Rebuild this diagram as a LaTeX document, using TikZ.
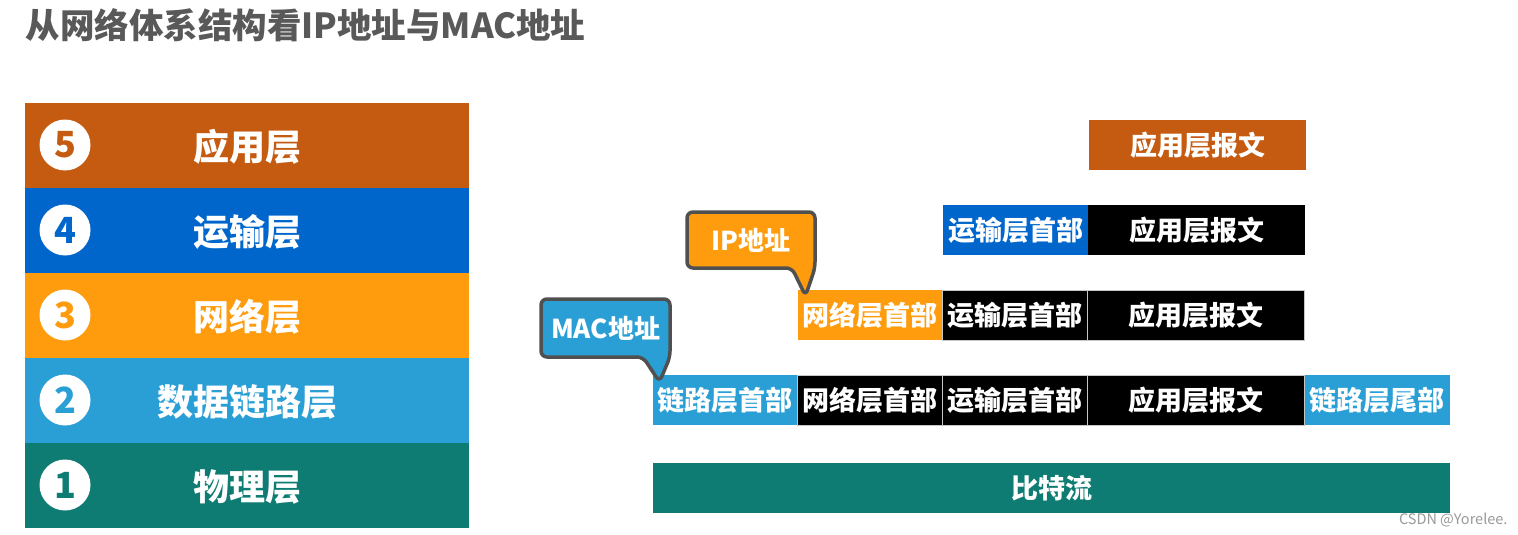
\documentclass[tikz,border=0pt]{standalone}
\usepackage{fontspec}
\setmainfont{Noto Sans CJK SC}
\usepackage{xcolor}
\usepackage{tikz}
\usetikzlibrary{positioning}
\definecolor{titlegray}{HTML}{595959}
\definecolor{appbrown}{HTML}{C55A11}
\definecolor{transblue}{HTML}{0066CC}
\definecolor{netorange}{HTML}{FE9C0E}
\definecolor{linkblue}{HTML}{2A9FD6}
\definecolor{phyteal}{HTML}{0E7C72}
\definecolor{calloutline}{HTML}{505050}
\pgfdeclarelayer{front}
\pgfsetlayers{main,front}
\tikzset{
  layerbox/.style={
    minimum width=444pt,
    minimum height=85pt,
    inner sep=0pt,
    outer sep=0pt,
    text depth=0pt,
    text=white,
    font=\fontsize{36}{40}\selectfont\bfseries
  },
  layernum/.style={
    circle,
    fill=white,
    minimum size=51pt,
    inner sep=0pt,
    font=\fontsize{36}{40}\selectfont\bfseries
  },
  pdubox/.style={
    minimum width=145pt,
    minimum height=50pt,
    inner sep=0pt,
    outer sep=0pt,
    text=white,
    font=\fontsize{27}{30}\selectfont\bfseries
  },
  msgbox/.style={pdubox, minimum width=217pt},
  blackbox/.style={pdubox, fill=black, draw=gray!45, line width=1pt},
  callouttext/.style={
    minimum width=128pt,
    minimum height=56pt,
    inner sep=0pt,
    outer sep=0pt,
    text=white,
    font=\fontsize{26}{30}\selectfont\bfseries
  },
  callout/.style={draw=calloutline, line width=3.5pt, rounded corners=6pt, line join=round}
}
\begin{document}
\begin{tikzpicture}[x=1pt, y=-1pt]
  \useasboundingbox (0,0) rectangle (1518,535);

  \node[anchor=west, text=titlegray, font=\fontsize{34.5}{38}\selectfont\bfseries] (title) at (22,25) {从网络体系结构看IP地址与MAC地址};

  % layer stack
  \node[layerbox, fill=appbrown] (lay5) at (247,145) {应用层};
  \node[layerbox, fill=transblue] (lay4) at (247,230) {运输层};
  \node[layerbox, fill=netorange] (lay3) at (247,315) {网络层};
  \node[layerbox, fill=linkblue] (lay2) at (247,400) {数据链路层};
  \node[layerbox, fill=phyteal] (lay1) at (247,485) {物理层};

  \node[layernum, text=appbrown] (num5) at (65,145) {5};
  \node[layernum, text=transblue] (num4) at (65,230) {4};
  \node[layernum, text=netorange] (num3) at (65,315) {3};
  \node[layernum, text=linkblue] (num2) at (65,400) {2};
  \node[layernum, text=phyteal] (num1) at (65,485) {1};

  % encapsulation
  \node[msgbox, fill=appbrown] (appmsg) at (1197.5,145) {应用层报文};

  \node[pdubox, fill=transblue] (tphdr) at (1015.5,230) {运输层首部};
  \node[msgbox, fill=black, right=0pt of tphdr] (tpmsg) {应用层报文};

  \node[pdubox, fill=netorange] (nethdr) at (870,315) {网络层首部};
  \node[blackbox, right=0pt of nethdr] (nettp) {运输层首部};
  \node[blackbox, msgbox, right=0pt of nettp] (netmsg) {应用层报文};

  \node[pdubox, fill=linkblue] (linkhdr) at (725,400) {链路层首部};
  \node[blackbox, right=0pt of linkhdr] (linknet) {网络层首部};
  \node[blackbox, right=0pt of linknet] (linktp) {运输层首部};
  \node[blackbox, msgbox, right=0pt of linktp] (linkmsg) {应用层报文};
  \node[pdubox, fill=linkblue, right=0pt of linkmsg] (linktrl) {链路层尾部};

  \node[pdubox, fill=phyteal, minimum width=797pt] (bits) at (1051.5,488) {比特流};

  % address callouts
  \begin{pgfonlayer}{front}
    \node[callouttext] (ipaddr) at (751,240) {IP地址};
    \node[callouttext, minimum width=129pt, minimum height=58pt] (macaddr) at (605.5,328) {MAC地址};
  \end{pgfonlayer}
  \draw[callout, fill=netorange] (ipaddr.north west) -- (ipaddr.north east) -- (ipaddr.south east)
    -- ([shift={(8,6)}]nethdr.north west) -- ([xshift=-23pt]ipaddr.south east) -- (ipaddr.south west) -- cycle;
  \draw[callout, fill=linkblue] (macaddr.north west) -- (macaddr.north east) -- (macaddr.south east)
    -- ([shift={(7,7)}]linkhdr.north west) -- ([xshift=-27pt]macaddr.south east) -- (macaddr.south west) -- cycle;

  \node[anchor=east, text=gray!80, font=\fontsize{14.5}{16}\selectfont] (mark) at (1511,520) {CSDN @Yorelee.};
\end{tikzpicture}
\end{document}
